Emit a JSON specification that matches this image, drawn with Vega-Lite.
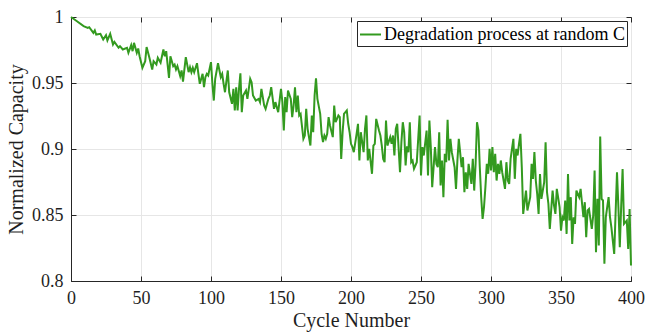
{
  "$schema": "https://vega.github.io/schema/vega-lite/v6.json",
  "autosize": "none",
  "width": 560,
  "height": 264,
  "padding": {"left": 71, "top": 17, "right": 14, "bottom": 52},
  "background": "white",
  "config": {
    "font": "Liberation Serif",
    "style": {"guide-label": {"font": "Liberation Serif"}, "guide-title": {"font": "Liberation Serif"}},
    "view": {"stroke": "#262626", "strokeWidth": 1},
    "axis": {
      "labelFont": "Liberation Serif",
      "titleFont": "Liberation Serif",
      "labelFontSize": 18,
      "titleFontSize": 20,
      "titleFontWeight": "normal",
      "labelColor": "#1f1f1f",
      "titleColor": "#1f1f1f",
      "tickColor": "#262626",
      "domainColor": "#262626",
      "gridColor": "#e6e6e6",
      "gridWidth": 1,
      "tickSize": -5,
      "labelFlush": false,
      "labelOverlap": false
    }
  },
  "data": {
    "values": [
      {"cycle": 0, "capacity": 1.0}, {"cycle": 4, "capacity": 0.997}, {"cycle": 9, "capacity": 0.9931}, {"cycle": 12, "capacity": 0.9918}, {"cycle": 13, "capacity": 0.9923},
      {"cycle": 16, "capacity": 0.988}, {"cycle": 17, "capacity": 0.9898}, {"cycle": 18, "capacity": 0.9867}, {"cycle": 21, "capacity": 0.9873}, {"cycle": 23, "capacity": 0.983},
      {"cycle": 25, "capacity": 0.9862}, {"cycle": 26, "capacity": 0.9822}, {"cycle": 28, "capacity": 0.9873}, {"cycle": 30, "capacity": 0.9792}, {"cycle": 31, "capacity": 0.9812},
      {"cycle": 34, "capacity": 0.9767}, {"cycle": 35, "capacity": 0.9779}, {"cycle": 37, "capacity": 0.9754}, {"cycle": 40, "capacity": 0.9767}, {"cycle": 41, "capacity": 0.9729},
      {"cycle": 43, "capacity": 0.9787}, {"cycle": 44, "capacity": 0.9741}, {"cycle": 45, "capacity": 0.9804}, {"cycle": 47, "capacity": 0.9729}, {"cycle": 48, "capacity": 0.9761},
      {"cycle": 49, "capacity": 0.9703}, {"cycle": 51, "capacity": 0.9615}, {"cycle": 53, "capacity": 0.9665}, {"cycle": 54, "capacity": 0.9772}, {"cycle": 56, "capacity": 0.9691},
      {"cycle": 58, "capacity": 0.9602}, {"cycle": 59, "capacity": 0.9665}, {"cycle": 61, "capacity": 0.964}, {"cycle": 62, "capacity": 0.9691}, {"cycle": 64, "capacity": 0.9653},
      {"cycle": 66, "capacity": 0.9754}, {"cycle": 67, "capacity": 0.9703}, {"cycle": 68, "capacity": 0.9741}, {"cycle": 70, "capacity": 0.9539}, {"cycle": 71, "capacity": 0.9703},
      {"cycle": 73, "capacity": 0.9628}, {"cycle": 74, "capacity": 0.964}, {"cycle": 75, "capacity": 0.9602}, {"cycle": 76, "capacity": 0.9628}, {"cycle": 78, "capacity": 0.9552},
      {"cycle": 79, "capacity": 0.9595}, {"cycle": 80, "capacity": 0.951}, {"cycle": 82, "capacity": 0.9696}, {"cycle": 84, "capacity": 0.9582}, {"cycle": 85, "capacity": 0.962},
      {"cycle": 86, "capacity": 0.9582}, {"cycle": 87, "capacity": 0.9615}, {"cycle": 88, "capacity": 0.9582}, {"cycle": 90, "capacity": 0.965}, {"cycle": 91, "capacity": 0.9569},
      {"cycle": 92, "capacity": 0.9494}, {"cycle": 94, "capacity": 0.9569}, {"cycle": 95, "capacity": 0.9468}, {"cycle": 96, "capacity": 0.9544}, {"cycle": 97, "capacity": 0.9569},
      {"cycle": 98, "capacity": 0.9557}, {"cycle": 100, "capacity": 0.9658}, {"cycle": 101, "capacity": 0.9494}, {"cycle": 102, "capacity": 0.9367}, {"cycle": 103, "capacity": 0.9532},
      {"cycle": 105, "capacity": 0.965}, {"cycle": 107, "capacity": 0.9544}, {"cycle": 108, "capacity": 0.9569}, {"cycle": 109, "capacity": 0.9494}, {"cycle": 110, "capacity": 0.943},
      {"cycle": 112, "capacity": 0.9595}, {"cycle": 113, "capacity": 0.943}, {"cycle": 115, "capacity": 0.9342}, {"cycle": 116, "capacity": 0.9456}, {"cycle": 117, "capacity": 0.9292},
      {"cycle": 118, "capacity": 0.9468}, {"cycle": 119, "capacity": 0.9292}, {"cycle": 120, "capacity": 0.9456}, {"cycle": 121, "capacity": 0.9574}, {"cycle": 122, "capacity": 0.9279},
      {"cycle": 123, "capacity": 0.9405}, {"cycle": 125, "capacity": 0.9443}, {"cycle": 126, "capacity": 0.938}, {"cycle": 128, "capacity": 0.9532}, {"cycle": 129, "capacity": 0.9506},
      {"cycle": 130, "capacity": 0.9405}, {"cycle": 132, "capacity": 0.9367}, {"cycle": 134, "capacity": 0.938}, {"cycle": 135, "capacity": 0.9355}, {"cycle": 136, "capacity": 0.9456},
      {"cycle": 138, "capacity": 0.9329}, {"cycle": 139, "capacity": 0.9304}, {"cycle": 141, "capacity": 0.938}, {"cycle": 142, "capacity": 0.9405}, {"cycle": 143, "capacity": 0.9468},
      {"cycle": 145, "capacity": 0.9304}, {"cycle": 146, "capacity": 0.9355}, {"cycle": 148, "capacity": 0.9279}, {"cycle": 150, "capacity": 0.9456}, {"cycle": 151, "capacity": 0.9355},
      {"cycle": 152, "capacity": 0.914}, {"cycle": 153, "capacity": 0.9393}, {"cycle": 154, "capacity": 0.9279}, {"cycle": 155, "capacity": 0.9443}, {"cycle": 157, "capacity": 0.938},
      {"cycle": 158, "capacity": 0.9241}, {"cycle": 159, "capacity": 0.9329}, {"cycle": 160, "capacity": 0.9468}, {"cycle": 161, "capacity": 0.9279}, {"cycle": 162, "capacity": 0.9405},
      {"cycle": 163, "capacity": 0.9254}, {"cycle": 164, "capacity": 0.9266}, {"cycle": 166, "capacity": 0.9077}, {"cycle": 167, "capacity": 0.9102}, {"cycle": 168, "capacity": 0.9304},
      {"cycle": 169, "capacity": 0.9153}, {"cycle": 171, "capacity": 0.9026}, {"cycle": 172, "capacity": 0.9254}, {"cycle": 173, "capacity": 0.9127}, {"cycle": 174, "capacity": 0.9405},
      {"cycle": 175, "capacity": 0.9536}, {"cycle": 176, "capacity": 0.938}, {"cycle": 178, "capacity": 0.9266}, {"cycle": 179, "capacity": 0.9115}, {"cycle": 180, "capacity": 0.9052},
      {"cycle": 181, "capacity": 0.9102}, {"cycle": 182, "capacity": 0.9077}, {"cycle": 183, "capacity": 0.9115}, {"cycle": 184, "capacity": 0.9241}, {"cycle": 185, "capacity": 0.9178},
      {"cycle": 187, "capacity": 0.909}, {"cycle": 188, "capacity": 0.9329}, {"cycle": 189, "capacity": 0.9203}, {"cycle": 190, "capacity": 0.9228}, {"cycle": 191, "capacity": 0.9254},
      {"cycle": 192, "capacity": 0.9241}, {"cycle": 193, "capacity": 0.8925}, {"cycle": 194, "capacity": 0.9127}, {"cycle": 195, "capacity": 0.9266}, {"cycle": 197, "capacity": 0.9292},
      {"cycle": 198, "capacity": 0.9191}, {"cycle": 199, "capacity": 0.9127}, {"cycle": 200, "capacity": 0.9039}, {"cycle": 201, "capacity": 0.9014}, {"cycle": 202, "capacity": 0.8976},
      {"cycle": 204, "capacity": 0.9115}, {"cycle": 205, "capacity": 0.9191}, {"cycle": 206, "capacity": 0.8913}, {"cycle": 207, "capacity": 0.9127}, {"cycle": 209, "capacity": 0.8976},
      {"cycle": 210, "capacity": 0.9153}, {"cycle": 211, "capacity": 0.9254}, {"cycle": 212, "capacity": 0.8913}, {"cycle": 213, "capacity": 0.9001}, {"cycle": 215, "capacity": 0.8812},
      {"cycle": 216, "capacity": 0.9026}, {"cycle": 217, "capacity": 0.9039}, {"cycle": 218, "capacity": 0.9228}, {"cycle": 220, "capacity": 0.914}, {"cycle": 221, "capacity": 0.9102},
      {"cycle": 222, "capacity": 0.9026}, {"cycle": 223, "capacity": 0.8925}, {"cycle": 224, "capacity": 0.89}, {"cycle": 225, "capacity": 0.9216}, {"cycle": 226, "capacity": 0.9026},
      {"cycle": 228, "capacity": 0.909}, {"cycle": 229, "capacity": 0.9039}, {"cycle": 230, "capacity": 0.9102}, {"cycle": 231, "capacity": 0.8951}, {"cycle": 232, "capacity": 0.9153},
      {"cycle": 233, "capacity": 0.9191}, {"cycle": 235, "capacity": 0.8824}, {"cycle": 236, "capacity": 0.9052}, {"cycle": 237, "capacity": 0.9203}, {"cycle": 238, "capacity": 0.9127},
      {"cycle": 239, "capacity": 0.8875}, {"cycle": 240, "capacity": 0.902}, {"cycle": 241, "capacity": 0.8976}, {"cycle": 242, "capacity": 0.9203}, {"cycle": 243, "capacity": 0.89},
      {"cycle": 244, "capacity": 0.8913}, {"cycle": 245, "capacity": 0.885}, {"cycle": 246, "capacity": 0.8875}, {"cycle": 247, "capacity": 0.89}, {"cycle": 249, "capacity": 0.9254},
      {"cycle": 250, "capacity": 0.8799}, {"cycle": 251, "capacity": 0.9014}, {"cycle": 252, "capacity": 0.8951}, {"cycle": 254, "capacity": 0.914}, {"cycle": 255, "capacity": 0.8799},
      {"cycle": 256, "capacity": 0.9216}, {"cycle": 257, "capacity": 0.9014}, {"cycle": 258, "capacity": 0.8711}, {"cycle": 260, "capacity": 0.9014}, {"cycle": 261, "capacity": 0.8887},
      {"cycle": 262, "capacity": 0.8862}, {"cycle": 263, "capacity": 0.9127}, {"cycle": 264, "capacity": 0.8723}, {"cycle": 265, "capacity": 0.8913}, {"cycle": 266, "capacity": 0.8635},
      {"cycle": 267, "capacity": 0.8963}, {"cycle": 268, "capacity": 0.89}, {"cycle": 269, "capacity": 0.9221}, {"cycle": 270, "capacity": 0.8913}, {"cycle": 271, "capacity": 0.9077},
      {"cycle": 272, "capacity": 0.8976}, {"cycle": 274, "capacity": 0.8862}, {"cycle": 275, "capacity": 0.8698}, {"cycle": 276, "capacity": 0.8913}, {"cycle": 277, "capacity": 0.9077},
      {"cycle": 279, "capacity": 0.8862}, {"cycle": 280, "capacity": 0.8938}, {"cycle": 281, "capacity": 0.8673}, {"cycle": 282, "capacity": 0.8824}, {"cycle": 283, "capacity": 0.8698},
      {"cycle": 284, "capacity": 0.8887}, {"cycle": 286, "capacity": 0.8736}, {"cycle": 287, "capacity": 0.8925}, {"cycle": 288, "capacity": 0.8685}, {"cycle": 289, "capacity": 0.8887},
      {"cycle": 290, "capacity": 0.9203}, {"cycle": 291, "capacity": 0.914}, {"cycle": 292, "capacity": 0.8862}, {"cycle": 293, "capacity": 0.8635}, {"cycle": 294, "capacity": 0.8471},
      {"cycle": 295, "capacity": 0.8559}, {"cycle": 296, "capacity": 0.8711}, {"cycle": 297, "capacity": 0.8887}, {"cycle": 298, "capacity": 0.8812}, {"cycle": 299, "capacity": 0.9001},
      {"cycle": 300, "capacity": 0.8837}, {"cycle": 301, "capacity": 0.9014}, {"cycle": 302, "capacity": 0.8824}, {"cycle": 303, "capacity": 0.8963}, {"cycle": 304, "capacity": 0.8761},
      {"cycle": 305, "capacity": 0.8887}, {"cycle": 306, "capacity": 0.8812}, {"cycle": 307, "capacity": 0.8913}, {"cycle": 308, "capacity": 0.8824}, {"cycle": 310, "capacity": 0.8698},
      {"cycle": 311, "capacity": 0.89}, {"cycle": 312, "capacity": 0.8761}, {"cycle": 313, "capacity": 0.8736}, {"cycle": 314, "capacity": 0.8925}, {"cycle": 316, "capacity": 0.9077},
      {"cycle": 317, "capacity": 0.8774}, {"cycle": 318, "capacity": 0.9001}, {"cycle": 319, "capacity": 0.8951}, {"cycle": 320, "capacity": 0.9039}, {"cycle": 321, "capacity": 0.9115},
      {"cycle": 322, "capacity": 0.8862}, {"cycle": 323, "capacity": 0.8508}, {"cycle": 325, "capacity": 0.8685}, {"cycle": 326, "capacity": 0.8534}, {"cycle": 328, "capacity": 0.8635},
      {"cycle": 329, "capacity": 0.8887}, {"cycle": 330, "capacity": 0.8774}, {"cycle": 331, "capacity": 0.8976}, {"cycle": 332, "capacity": 0.8761}, {"cycle": 333, "capacity": 0.866},
      {"cycle": 334, "capacity": 0.8508}, {"cycle": 335, "capacity": 0.8811}, {"cycle": 336, "capacity": 0.8622}, {"cycle": 338, "capacity": 0.8748}, {"cycle": 339, "capacity": 0.9051},
      {"cycle": 340, "capacity": 0.8673}, {"cycle": 341, "capacity": 0.8584}, {"cycle": 342, "capacity": 0.8395}, {"cycle": 344, "capacity": 0.8685}, {"cycle": 345, "capacity": 0.8572},
      {"cycle": 346, "capacity": 0.8508}, {"cycle": 347, "capacity": 0.8698}, {"cycle": 349, "capacity": 0.8559}, {"cycle": 350, "capacity": 0.8382}, {"cycle": 351, "capacity": 0.8483},
      {"cycle": 352, "capacity": 0.8458}, {"cycle": 353, "capacity": 0.861}, {"cycle": 354, "capacity": 0.8357}, {"cycle": 355, "capacity": 0.8811}, {"cycle": 356, "capacity": 0.8458},
      {"cycle": 357, "capacity": 0.8635}, {"cycle": 358, "capacity": 0.8281}, {"cycle": 359, "capacity": 0.8483}, {"cycle": 360, "capacity": 0.8433}, {"cycle": 361, "capacity": 0.8685},
      {"cycle": 363, "capacity": 0.8635}, {"cycle": 364, "capacity": 0.8698}, {"cycle": 366, "capacity": 0.8483}, {"cycle": 367, "capacity": 0.8597}, {"cycle": 368, "capacity": 0.8332},
      {"cycle": 369, "capacity": 0.8534}, {"cycle": 370, "capacity": 0.8546}, {"cycle": 372, "capacity": 0.8395}, {"cycle": 373, "capacity": 0.8496}, {"cycle": 374, "capacity": 0.8837},
      {"cycle": 375, "capacity": 0.8218}, {"cycle": 376, "capacity": 0.8622}, {"cycle": 377, "capacity": 0.8269}, {"cycle": 378, "capacity": 0.9094}, {"cycle": 379, "capacity": 0.8622},
      {"cycle": 380, "capacity": 0.861}, {"cycle": 381, "capacity": 0.813}, {"cycle": 382, "capacity": 0.8483}, {"cycle": 384, "capacity": 0.8635}, {"cycle": 385, "capacity": 0.8483},
      {"cycle": 386, "capacity": 0.8407}, {"cycle": 387, "capacity": 0.8306}, {"cycle": 388, "capacity": 0.8205}, {"cycle": 390, "capacity": 0.8824}, {"cycle": 391, "capacity": 0.8559},
      {"cycle": 392, "capacity": 0.8256}, {"cycle": 393, "capacity": 0.8572}, {"cycle": 394, "capacity": 0.8849}, {"cycle": 395, "capacity": 0.8433}, {"cycle": 397, "capacity": 0.8458},
      {"cycle": 398, "capacity": 0.8243}, {"cycle": 399, "capacity": 0.8546}, {"cycle": 400, "capacity": 0.8117}
    ]
  },
  "layer": [
    {
      "mark": {"type": "line", "strokeWidth": 2},
      "encoding": {
        "x": {
          "field": "cycle", "type": "quantitative",
          "scale": {"domain": [0, 400], "nice": false, "zero": false},
          "axis": {"orient": "bottom", "title": "Cycle Number", "values": [0, 50, 100, 150, 200, 250, 300, 350, 400], "labelPadding": 13, "titlePadding": 3}
        },
        "y": {
          "field": "capacity", "type": "quantitative",
          "scale": {"domain": [0.8, 1], "nice": false, "zero": false},
          "axis": {"orient": "left", "title": "Normalized Capacity", "values": [0.8, 0.85, 0.9, 0.95, 1], "format": "~g", "labelPadding": 13, "titlePadding": 5}
        },
        "color": {
          "datum": "Degradation process at random C",
          "type": "nominal",
          "scale": {"range": ["#339a1f"]},
          "legend": {
            "title": null, "orient": "top-right", "offset": 4,
            "strokeColor": "#262626", "fillColor": "white", "padding": 2,
            "labelFont": "Liberation Serif", "labelFontSize": 18, "labelColor": "#000000", "labelLimit": 0,
            "symbolType": "stroke", "symbolSize": 441, "symbolStrokeWidth": 2, "labelOffset": 2
          }
        }
      }
    },
    {
      "mark": {"type": "line", "opacity": 0},
      "encoding": {
        "x": {
          "field": "cycle", "type": "quantitative",
          "axis": {"orient": "top", "title": null, "labels": false, "grid": false, "domain": false, "values": [0, 50, 100, 150, 200, 250, 300, 350, 400]}
        },
        "y": {
          "field": "capacity", "type": "quantitative",
          "axis": {"orient": "right", "title": null, "labels": false, "grid": false, "domain": false, "values": [0.8, 0.85, 0.9, 0.95, 1]}
        }
      }
    }
  ],
  "resolve": {"axis": {"x": "independent", "y": "independent"}}
}
